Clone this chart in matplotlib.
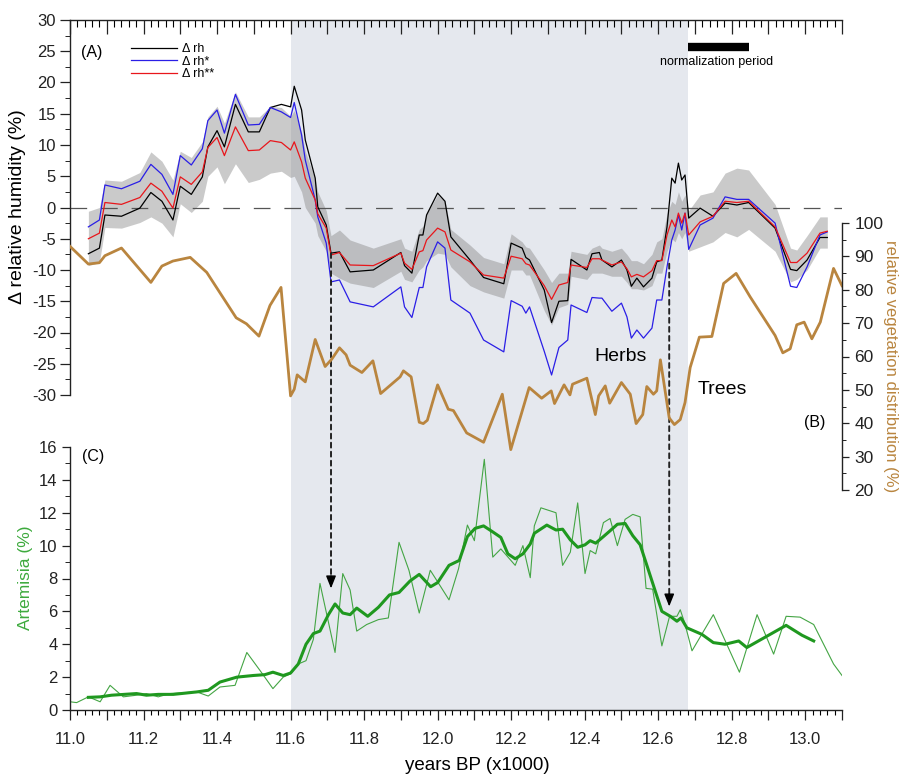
import matplotlib
matplotlib.use('Agg')
import matplotlib.pyplot as plt
from matplotlib.ticker import MultipleLocator, FuncFormatter

plt.rcParams['font.family'] = ['Liberation Sans', 'DejaVu Sans']
plt.rcParams['axes.unicode_minus'] = False
plt.rcParams['lines.scale_dashes'] = False

# --- (A) humidity reconstructions, x in kyr BP
x_rh = [11.05, 11.08, 11.095, 11.14, 11.19, 11.22, 11.25, 11.28, 11.30, 11.33,
        11.36, 11.375, 11.40, 11.42, 11.45, 11.485, 11.515, 11.545, 11.575, 11.60,
        11.61, 11.63, 11.64, 11.667, 11.674, 11.697, 11.71, 11.733, 11.762, 11.825,
        11.90, 11.91, 11.93, 11.95, 11.96, 11.97, 12.00, 12.02, 12.036, 12.088,
        12.125, 12.18, 12.20, 12.23, 12.24, 12.25, 12.29, 12.31, 12.33, 12.354,
        12.363, 12.406, 12.42, 12.44, 12.447, 12.474, 12.50, 12.515, 12.527, 12.542,
        12.56, 12.583, 12.596, 12.61, 12.624, 12.637, 12.646, 12.655, 12.664, 12.673,
        12.683, 12.714, 12.749, 12.782, 12.814, 12.846, 12.918, 12.96, 12.977, 13.005,
        13.04, 13.06]
rh = [-7.4, -6.5, -1.2, -1.4, -0.1, 2.4, 1.0, -2.0, 3.4, 2.1,
      4.9, 9.7, 12.3, 9.7, 16.5, 12.1, 12.1, 16.0, 16.5, 16.1,
      19.4, 15.6, 10.8, 4.7, 0.1, -2.8, -7.3, -7.1, -10.3, -10.0,
      -7.2, -9.3, -10.5, -4.4, -4.4, -1.2, 2.3, 1.0, -4.7, -8.4,
      -11.2, -12.2, -5.7, -6.5, -8.0, -8.4, -13.2, -18.4, -15.0, -14.9,
      -8.3, -10.0, -7.4, -7.2, -8.4, -9.5, -8.4, -10.0, -12.6, -11.3,
      -12.7, -11.3, -8.7, -8.4, -3.1, 4.7, 3.9, 7.1, 4.4, 5.2,
      -1.7, -0.1, -1.4, 0.7, 0.4, 0.8, -3.3, -9.9, -10.1, -8.4,
      -4.8, -4.8]
rh_star = [-3.1, -2.0, 3.6, 3.0, 4.2, 6.9, 5.3, 2.1, 8.3, 6.8,
           9.4, 13.9, 15.6, 11.9, 18.1, 13.2, 13.3, 16.0, 15.3, 14.4,
           16.8, 11.6, 7.6, 1.2, -1.5, -5.7, -11.9, -11.6, -15.1, -15.9,
           -12.7, -15.9, -17.6, -12.8, -12.8, -9.5, -5.5, -6.5, -14.8, -16.9,
           -21.2, -23.1, -14.9, -15.8, -16.9, -15.9, -23.0, -26.8, -22.4, -21.2,
           -15.6, -16.8, -14.4, -14.5, -14.5, -16.6, -15.3, -17.5, -20.9, -19.6,
           -20.9, -19.3, -14.8, -14.8, -9.5, -5.2, -3.6, -1.2, -3.6, -0.9,
           -6.7, -2.8, -1.7, 1.7, 1.3, 1.3, -2.5, -12.6, -12.8, -9.5,
           -4.4, -3.9]
rh_2star = [-5.0, -4.1, 0.8, 0.5, 1.6, 3.9, 2.6, -0.1, 4.9, 3.7,
            5.7, 9.6, 11.2, 8.3, 12.9, 9.1, 9.2, 10.7, 10.4, 9.2,
            10.5, 7.3, 4.7, 1.2, -1.0, -3.3, -7.6, -7.2, -9.2, -9.3,
            -7.3, -8.9, -9.9, -7.1, -6.9, -5.2, -3.3, -3.9, -6.8, -8.7,
            -10.8, -11.3, -7.8, -8.2, -9.0, -9.2, -12.5, -14.7, -12.4, -12.0,
            -9.2, -9.6, -8.2, -8.2, -8.4, -9.2, -8.7, -9.8, -11.1, -10.7,
            -11.1, -10.1, -8.5, -8.5, -4.4, -2.0, -3.1, -0.9, -2.5, -0.9,
            -4.4, -2.3, -1.4, 1.0, 0.8, 1.0, -3.1, -8.8, -8.8, -7.3,
            -4.1, -3.8]
band_hi = [-0.6, 0.0, 4.4, 4.2, 5.6, 8.9, 7.4, 4.4, 9.0, 8.0,
           10.5, 14.5, 16.2, 13.5, 18.5, 14.5, 14.5, 16.2, 16.0, 14.6,
           15.5, 12.0, 9.0, 4.5, 2.5, -0.5, -4.5, -3.6, -5.2, -6.5,
           -5.0, -6.5, -7.0, -3.5, -3.0, -1.0, 2.0, 1.0, -3.5, -6.0,
           -8.0, -9.0, -4.2, -5.5, -6.3, -6.5, -10.0, -12.0, -10.5, -10.5,
           -7.0, -7.5, -6.5, -6.0, -6.5, -7.0, -6.5, -7.5, -8.5, -8.5,
           -9.0, -7.5, -5.5, -5.0, -1.0, 1.0, 0.5, 2.5, 1.0, 2.0,
           -0.5, 2.0, 2.5, 5.5, 6.3, 6.0, 0.5, -6.5, -6.8, -4.5,
           -1.5, -1.5]
band_lo = [-9.3, -8.8, -3.2, -3.3, -2.4, -1.5, -2.5, -4.7, 0.6, -0.8,
           1.0, 5.0, 6.5, 3.8, 7.0, 4.0, 4.5, 5.5, 5.8, 4.8,
           5.0, 2.5, 0.0, -2.5, -4.5, -7.0, -10.5, -11.3, -12.1, -12.8,
           -10.2, -11.5, -11.9, -10.0, -9.5, -8.5, -7.3, -7.5, -9.5, -12.5,
           -13.5, -14.5, -10.0, -10.0, -10.8, -10.8, -16.5, -18.8, -16.0, -15.5,
           -11.0, -11.5, -10.5, -10.5, -10.5, -11.0, -11.0, -12.0, -13.0, -13.0,
           -13.2, -12.5, -10.5, -10.5, -7.0, -5.0, -5.5, -4.0, -5.0, -4.0,
           -7.0, -6.3, -5.5, -4.0, -4.7, -3.5, -7.0, -11.9, -11.5, -10.0,
           -6.5, -6.5]

# --- (B) relative vegetation distribution (trees vs herbs)
veg_x = [11.0, 11.05, 11.08, 11.095, 11.14, 11.22, 11.25, 11.28, 11.327, 11.372,
         11.452, 11.48, 11.514, 11.544, 11.574, 11.60, 11.61, 11.618, 11.64, 11.667,
         11.694, 11.712, 11.733, 11.751, 11.762, 11.794, 11.824, 11.845, 11.898, 11.907,
         11.928, 11.95, 11.961, 11.972, 12.0, 12.029, 12.043, 12.079, 12.125, 12.176,
         12.199, 12.249, 12.283, 12.309, 12.318, 12.344, 12.36, 12.367, 12.406, 12.429,
         12.438, 12.456, 12.468, 12.50, 12.524, 12.54, 12.558, 12.569, 12.587, 12.596,
         12.606, 12.63, 12.644, 12.66, 12.673, 12.687, 12.712, 12.746, 12.778, 12.812,
         12.85, 12.918, 12.939, 12.959, 12.977, 12.997, 13.018, 13.041, 13.077, 13.10]
veg = [93.0, 87.7, 88.1, 90.2, 92.5, 82.2, 87.1, 88.6, 89.7, 85.2,
       71.6, 69.8, 66.1, 75.3, 80.7, 48.2, 50.2, 54.5, 52.4, 65.1,
       57.0, 59.2, 62.6, 60.5, 57.4, 55.2, 58.7, 48.9, 53.9, 55.7,
       53.9, 40.3, 39.9, 40.9, 51.5, 44.2, 43.8, 37.1, 34.3, 48.7,
       32.1, 50.7, 47.5, 49.7, 45.9, 51.5, 48.5, 51.7, 53.5, 42.6,
       48.2, 51.2, 46.0, 52.2, 48.7, 39.9, 42.6, 51.0, 48.7, 49.7,
       59.0, 41.6, 39.6, 41.1, 46.2, 56.7, 65.8, 66.0, 81.9, 84.9,
       77.9, 66.3, 61.1, 62.3, 69.5, 70.3, 65.3, 70.3, 86.4, 81.2]

# --- (C) Artemisia, raw and smoothed
art_x = [11.0, 11.018, 11.05, 11.082, 11.109, 11.145, 11.181, 11.208, 11.24, 11.272,
         11.345, 11.376, 11.408, 11.449, 11.481, 11.517, 11.552, 11.58, 11.60, 11.621,
         11.642, 11.662, 11.68, 11.721, 11.742, 11.762, 11.78, 11.807, 11.839, 11.866,
         11.895, 11.922, 11.95, 11.98, 12.0, 12.031, 12.057, 12.081, 12.10, 12.127,
         12.15, 12.172, 12.211, 12.232, 12.252, 12.263, 12.281, 12.322, 12.34, 12.361,
         12.381, 12.401, 12.415, 12.43, 12.451, 12.469, 12.489, 12.51, 12.531, 12.551,
         12.567, 12.585, 12.61, 12.631, 12.651, 12.66, 12.672, 12.692, 12.75, 12.821,
         12.869, 12.914, 12.948, 12.986, 13.023, 13.077, 13.10]
art = [0.5, 0.45, 0.8, 0.5, 1.5, 0.8, 0.9, 1.0, 0.8, 1.0,
       1.1, 0.85, 1.4, 1.5, 3.5, 2.4, 1.3, 2.0, 2.2, 2.8,
       3.0, 4.3, 7.7, 3.5, 8.3, 7.3, 4.8, 5.2, 5.5, 5.6,
       10.2, 8.5, 5.9, 8.5, 7.8, 6.7, 8.6, 11.25, 10.3, 15.25,
       9.3, 9.8, 8.8, 10.0, 8.05, 11.2, 12.3, 12.0, 8.8, 9.6,
       12.6, 8.3, 9.7, 9.5, 11.4, 11.65, 10.0, 11.6, 11.9, 11.75,
       7.4, 7.35, 3.9, 5.7, 5.7, 6.1, 5.3, 3.6, 5.8, 2.3,
       5.8, 3.4, 5.7, 5.65, 5.2, 2.8, 2.1]
sm_x = [11.05, 11.082, 11.113, 11.181, 11.208, 11.24, 11.281, 11.345, 11.376, 11.408,
        11.454, 11.499, 11.53, 11.552, 11.58, 11.60, 11.621, 11.642, 11.662, 11.68,
        11.703, 11.721, 11.742, 11.762, 11.78, 11.81, 11.839, 11.869, 11.895, 11.925,
        11.95, 11.981, 12.0, 12.031, 12.059, 12.081, 12.102, 12.125, 12.149, 12.172,
        12.191, 12.211, 12.232, 12.252, 12.263, 12.297, 12.322, 12.34, 12.361, 12.381,
        12.401, 12.415, 12.43, 12.451, 12.469, 12.489, 12.51, 12.531, 12.551, 12.61,
        12.633, 12.651, 12.662, 12.678, 12.719, 12.75, 12.782, 12.819, 12.841, 12.948,
        12.991, 13.023]
sm = [0.77, 0.8, 0.9, 1.0, 0.9, 0.95, 0.95, 1.1, 1.2, 1.7,
      2.0, 2.1, 2.15, 2.3, 2.1, 2.25, 2.8, 4.0, 4.65, 4.8,
      5.8, 6.45, 5.9, 5.8, 6.2, 5.7, 6.25, 7.0, 7.15, 7.85,
      8.25, 7.5, 7.75, 8.8, 9.1, 10.55, 11.05, 11.2, 10.85, 10.5,
      9.5, 9.2, 9.5, 10.1, 10.75, 11.25, 10.95, 11.0, 10.35, 9.9,
      10.05, 10.3, 10.15, 10.55, 10.9, 11.3, 11.35, 10.6, 10.05, 6.0,
      5.7, 5.4, 5.6, 5.0, 4.6, 4.1, 4.0, 4.2, 3.8, 5.15,
      4.55, 4.2]

# shaded interval, normalization period and the two arrows
span = (11.6, 12.68)
norm_period = (12.68, 12.848)
arrow_x = [11.71, 12.63]
arrow_top = [-7.3, -9.0]   # in humidity units
arrow_tip = [7.4, 6.3]     # in Artemisia units

BROWN = '#b9853f'
GREEN = '#1f981f'

W, H = 903, 776
fig = plt.figure(figsize=(W / 100, H / 100), dpi=100)

def box(top, bottom):
    return [70 / W, 1 - bottom / H, (842 - 70) / W, (bottom - top) / H]

def fx(px):
    return px / W

def fy(py):
    return 1 - py / H

ax_bg = fig.add_axes(box(20, 710))
ax_a = fig.add_axes(box(20, 395))
ax_b = fig.add_axes(box(223, 490))
ax_c = fig.add_axes(box(447, 710))

for ax in (ax_bg, ax_a, ax_b, ax_c):
    ax.set_xlim(11.0, 13.1)
    for s in ax.spines.values():
        s.set_visible(False)
        s.set_linewidth(1.0)
        s.set_color('#222222')
    ax.tick_params(colors='#222222', labelsize=12, width=0.9)
for ax in (ax_a, ax_b, ax_c):
    ax.patch.set_visible(False)

# background: shading + bottom x axis
ax_bg.axvspan(span[0], span[1], color='#e5e8ee', lw=0)
ax_bg.set_ylim(0, 1)
ax_bg.set_yticks([])
ax_bg.spines['bottom'].set_visible(True)
ax_bg.xaxis.set_major_locator(MultipleLocator(0.1))
ax_bg.xaxis.set_minor_locator(MultipleLocator(0.02))
ax_bg.xaxis.set_major_formatter(FuncFormatter(
    lambda v, p: f'{v:.1f}' if round(v * 10) % 2 == 0 else ''))
ax_bg.tick_params(axis='x', which='major', direction='out', length=7, pad=9)
ax_bg.tick_params(axis='x', which='minor', direction='out', length=3.5, width=0.8)

# (A) humidity
ax_a.set_ylim(-30, 30)
ax_a.spines['left'].set_visible(True)
ax_a.spines['top'].set_visible(True)
ax_a.yaxis.set_major_locator(MultipleLocator(5))
ax_a.yaxis.set_minor_locator(MultipleLocator(2.5))
ax_a.tick_params(axis='y', which='major', direction='out', length=7, pad=3)
ax_a.tick_params(axis='y', which='minor', direction='out', length=3.5)
ax_a.xaxis.set_major_locator(MultipleLocator(0.1))
ax_a.xaxis.set_minor_locator(MultipleLocator(0.02))
ax_a.tick_params(axis='x', which='both', top=True, bottom=False,
                 labeltop=False, labelbottom=False, direction='in')
ax_a.tick_params(axis='x', which='major', length=10)
ax_a.tick_params(axis='x', which='minor', length=5, width=0.8)

ax_a.fill_between(x_rh, band_lo, band_hi, color='#8a8a8a', alpha=0.45, lw=0, zorder=1)
ax_a.axhline(0, color='#555555', lw=0.9, dashes=(12, 10), zorder=2)
ax_a.plot(x_rh, rh, color='black', lw=0.9, label='Δ rh', zorder=3)
ax_a.plot(x_rh, rh_star, color='#2a1ee6', lw=0.9, label='Δ rh*', zorder=3)
ax_a.plot(x_rh, rh_2star, color='#e8161b', lw=0.9, label='Δ rh**', zorder=4)
ax_a.plot(norm_period, [25.6, 25.6], color='black', lw=6, solid_capstyle='butt')

ax_a.legend(loc='upper left', bbox_to_anchor=(fx(131), fy(43)), bbox_transform=fig.transFigure,
            frameon=False, fontsize=9, handlelength=3.7, handletextpad=0.4,
            labelspacing=0.05, borderpad=0, borderaxespad=0)

# (B) vegetation
ax_b.set_ylim(20, 100)
ax_b.spines['right'].set_visible(True)
ax_b.yaxis.tick_right()
ax_b.set_xticks([])
ax_b.yaxis.set_major_locator(MultipleLocator(10))
ax_b.yaxis.set_minor_locator(MultipleLocator(5))
ax_b.tick_params(axis='y', which='major', direction='out', length=5, pad=4, labelsize=12.5)
ax_b.tick_params(axis='y', which='minor', direction='out', length=3)
ax_b.plot(veg_x, veg, color=BROWN, lw=2.0)

# (C) Artemisia
ax_c.set_ylim(0, 16)
ax_c.spines['left'].set_visible(True)
ax_c.set_xticks([])
ax_c.yaxis.set_major_locator(MultipleLocator(2))
ax_c.yaxis.set_minor_locator(MultipleLocator(1))
ax_c.tick_params(axis='y', which='major', direction='out', length=6, pad=3)
ax_c.tick_params(axis='y', which='minor', direction='out', length=3.5)
ax_c.plot(art_x, art, color='#44a544', lw=0.8)
ax_c.plot(sm_x, sm, color=GREEN, lw=2.2)

# dashed arrows from humidity drop to Artemisia change
for xa, yt, yb in zip(arrow_x, arrow_top, arrow_tip):
    ax_a.annotate('', xy=(xa, yb), xycoords=ax_c.transData, xytext=(xa, yt), textcoords='data',
                  arrowprops=dict(arrowstyle='-', color='#222222', lw=1.4,
                                  linestyle=(0, (3.5, 3)), shrinkA=0, shrinkB=4), zorder=6)
    ax_c.annotate('', xy=(xa, yb), xytext=(0, 9), textcoords='offset points',
                  arrowprops=dict(arrowstyle='-|>,head_length=0.75,head_width=0.3',
                                  color='black', lw=1.0, shrinkA=0, shrinkB=0), zorder=7)

# labels
fig.text(fx(18), fy(207), 'Δ relative humidity (%)', rotation=90, ha='center', va='center', fontsize=14)
fig.text(fx(26), fy(578), 'Artemisia (%)', rotation=90, ha='center', va='center',
         fontsize=12.5, color='#3daa3d')
fig.text(fx(891), fy(366), 'relative vegetation distribution (%)', rotation=-90,
         ha='center', va='center', fontsize=12, color=BROWN)
fig.text(fx(477), fy(765), 'years BP (x1000)', ha='center', va='center', fontsize=13.5)
fig.text(fx(92), fy(52), '(A)', ha='center', va='center', fontsize=11.5)
fig.text(fx(815), fy(423), '(B)', ha='center', va='center', fontsize=11.5)
fig.text(fx(93), fy(457), '(C)', ha='center', va='center', fontsize=11.5)
fig.text(fx(621), fy(357), 'Herbs', ha='center', va='center', fontsize=14)
fig.text(fx(722), fy(390), 'Trees', ha='center', va='center', fontsize=14)
fig.text(fx(717), fy(62), 'normalization period', ha='center', va='center', fontsize=9)

fig.savefig('out.png', dpi=100)
